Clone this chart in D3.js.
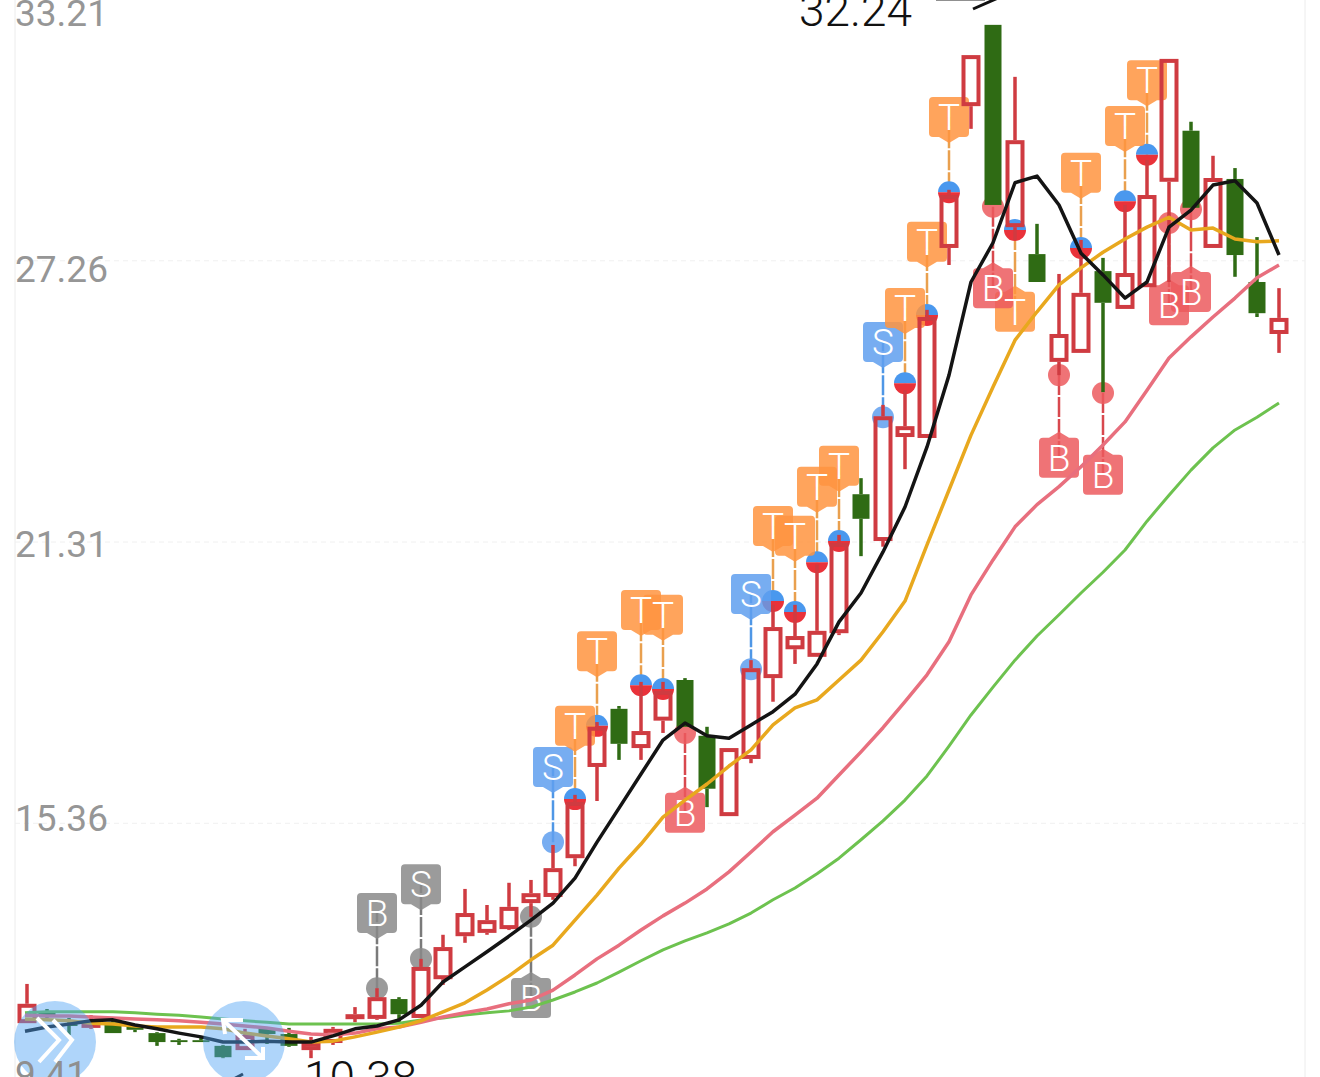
<!DOCTYPE html>
<html>
<head>
<meta charset="utf-8">
<script src="https://cdn.jsdelivr.net/npm/d3@7/dist/d3.min.js"></script>
<style>
html,body{margin:0;padding:0;background:#fff;overflow:hidden}
svg{display:block;font-family:Roboto,"Noto Sans",sans-serif}
</style>
</head>
<body>
<svg id="chart" width="1320" height="1077"></svg>
<script>
const axisTicks=[33.21,27.26,21.31,15.36,9.41];
const highPrice=32.24, lowPrice=10.38;

const open =[11.12,11.36,11.10,11.02,11.14,11.04,10.91,10.76,10.76,10.64,10.55,11.00,10.89,10.55,10.70,11.25,11.21,11.63,11.23,12.05,12.96,13.03,13.11,13.66,13.79,14.61,16.54,17.77,16.94,17.52,18.38,17.20,15.50,16.71,18.42,19.03,18.87,19.37,22.31,21.32,23.52,23.50,27.52,30.52,32.24,27.96,27.39,25.11,25.30,27.03,26.23,26.69,28.92,30.00,27.52,28.98,26.80,25.70];
const close=[11.53,11.25,11.06,11.17,10.91,10.98,10.72,10.72,10.72,10.40,10.87,10.89,10.64,10.72,11.00,11.31,11.67,11.31,12.31,12.73,13.45,13.30,13.58,13.87,14.40,15.80,17.39,17.03,17.30,18.15,17.39,16.08,16.94,18.63,19.50,19.31,19.42,21.28,21.79,23.96,23.75,26.06,28.64,31.60,28.43,29.80,26.80,25.70,26.57,26.36,26.99,28.64,31.52,28.37,29.00,27.37,26.14,26.04];
const high =[11.95,11.42,11.23,11.29,11.17,11.08,10.93,10.79,10.83,10.66,11.00,11.02,11.02,10.83,11.04,11.46,11.86,11.67,12.48,12.99,13.96,13.62,14.09,14.15,14.89,15.95,17.49,17.83,18.34,18.34,18.42,17.39,16.94,18.80,19.97,19.97,20.82,21.45,22.65,24.20,24.51,26.21,28.75,31.60,32.24,31.14,28.03,26.97,27.69,27.31,28.43,29.38,31.52,30.19,29.47,29.21,27.75,26.67];
const low  =[11.12,11.23,10.87,11.00,10.91,10.93,10.64,10.66,10.72,10.38,10.55,10.68,10.62,10.38,10.66,11.14,11.19,11.14,11.23,11.93,12.82,12.99,13.09,13.37,13.73,14.44,15.82,16.69,16.69,17.26,17.39,15.69,15.50,16.62,17.92,18.72,18.87,19.33,21.00,21.20,22.84,23.50,27.16,30.04,28.43,27.69,26.80,24.83,25.30,24.47,26.23,26.69,26.80,28.37,27.52,26.91,26.06,25.30];

const ma5 =[10.95,11.04,11.10,11.17,11.19,11.08,11.00,10.91,10.83,10.72,10.72,10.74,10.72,10.72,10.85,11.00,11.06,11.19,11.50,11.99,12.31,12.63,12.96,13.30,13.66,14.19,14.95,15.67,16.39,17.11,17.47,17.20,17.15,17.43,17.71,18.08,18.72,19.61,20.22,21.09,22.04,23.31,24.83,26.80,27.63,28.90,29.04,28.43,27.41,26.95,26.46,26.80,27.96,28.32,28.85,28.94,28.47,27.37];
const ma10=[11.21,11.19,11.17,11.12,11.10,11.06,11.04,11.04,11.04,11.00,10.91,10.85,10.79,10.72,10.74,10.83,10.93,11.04,11.17,11.36,11.55,11.82,12.12,12.46,12.77,13.30,13.83,14.40,14.91,15.48,15.84,16.18,16.56,16.90,17.43,17.79,17.96,18.38,18.80,19.40,20.05,21.24,22.40,23.56,24.58,25.57,26.17,26.74,27.10,27.43,27.71,27.96,28.17,27.90,27.94,27.71,27.65,27.67];
const ma20=[11.29,11.27,11.27,11.25,11.23,11.21,11.19,11.17,11.14,11.10,11.06,11.02,10.95,10.89,10.87,10.91,11.00,11.04,11.14,11.25,11.34,11.42,11.53,11.61,11.82,12.14,12.48,12.77,13.09,13.39,13.66,13.96,14.32,14.74,15.17,15.52,15.88,16.37,16.86,17.37,17.92,18.49,19.19,20.18,20.92,21.62,22.09,22.47,22.89,23.35,23.84,24.51,25.19,25.64,26.06,26.46,26.89,27.16];
const ma30=[11.34,11.36,11.36,11.36,11.36,11.34,11.31,11.29,11.25,11.21,11.17,11.14,11.10,11.10,11.10,11.10,11.10,11.12,11.19,11.23,11.29,11.34,11.38,11.46,11.61,11.78,11.97,12.20,12.44,12.67,12.86,13.03,13.22,13.45,13.73,13.98,14.28,14.61,15.00,15.40,15.84,16.35,16.98,17.64,18.23,18.80,19.31,19.76,20.22,20.66,21.13,21.74,22.29,22.82,23.29,23.67,23.94,24.24];

const signalBar  =[16,18,23,24,33,39,25,26,28,29,34,35,36,37,40,41,42,45,48,50,51,30,44,47,49,52,53];
const signalType =["B","S","B","S","S","S","T","T","T","T","T","T","T","T","T","T","T","T","T","T","T","B","B","B","B","B","B"];
const signalStyle=["grey","grey","grey","blue","blue","blue","half","half","half","half","half","half","half","half","half","half","half","half","half","half","half","red","red","red","red","red","red"];
const signalPrice=[11.86,12.48,13.37,14.95,18.61,23.94,15.86,17.41,18.27,18.19,20.05,19.82,20.87,21.32,24.66,26.10,28.70,27.90,27.52,28.51,29.49,17.26,28.39,24.83,24.45,28.05,28.34];
const badgePrice =[13.45,14.06,11.65,16.54,20.20,25.53,17.41,18.99,19.86,19.76,21.64,21.43,22.47,22.91,26.25,27.65,30.29,26.17,29.11,30.10,31.07,15.57,26.67,23.08,22.72,26.31,26.59];

const W=1320,H=1077;
const RED="#cf3b41",GREEN="#2f6b14";
const svg=d3.select("#chart");
const x=d3.scaleLinear().domain([0,open.length-1]).range([25,1279]);
const y=d3.scaleLinear().domain([9.41,33.21]).range([1104,-21]);
const bars=d3.range(open.length);

// frame + axis
svg.selectAll("line.frame").data([15,1305]).join("line").attr("class","frame")
  .attr("x1",d=>d).attr("x2",d=>d).attr("y1",0).attr("y2",H).attr("stroke","#ececec").attr("stroke-width",1);
const labelDy=[46.5,21.5,14.5,7.5];
const axis=svg.append("g").attr("transform","translate(15,0)")
  .call(d3.axisRight(y).tickValues(axisTicks.slice(0,4)).tickSize(1290).tickFormat(d3.format(".2f")));
axis.select(".domain").remove();
axis.selectAll(".tick line").attr("stroke","#f0f0f0").attr("stroke-dasharray","5,4");
axis.selectAll(".tick text").attr("x",0).attr("dy",(d,i)=>labelDy[i]).attr("text-anchor","start")
  .style("font-family","Roboto,sans-serif").style("font-size","37px").attr("fill","#969696");

// signals
const styleMap={grey:{f:"#8a8a8a",line:"#7a7a7a",c:"#8a8a8a"},blue:{f:"#5f9fef",line:"#4f97e6",c:"#5f9fef"},
  half:{f:"#ff9440",line:"#e9a04e"},red:{f:"#ec5a5e",line:"#d8484e",c:"#ec5a5e"}};
const R=11,BW=20,BH=20,TIP=6;
function badgePath(cx,cy,up){
  const r=4,l=cx-BW,rt=cx+BW,t=cy-BH,b=cy+BH;
  if(!up) return `M${l+r},${t}H${rt-r}Q${rt},${t} ${rt},${t+r}V${b-r}Q${rt},${b} ${rt-r},${b}H${cx+10}L${cx},${b+TIP}L${cx-10},${b}H${l+r}Q${l},${b} ${l},${b-r}V${t+r}Q${l},${t} ${l+r},${t}Z`;
  return `M${l+r},${t}H${cx-10}L${cx},${t-TIP}L${cx+10},${t}H${rt-r}Q${rt},${t} ${rt},${t+r}V${b-r}Q${rt},${b} ${rt-r},${b}H${l+r}Q${l},${b} ${l},${b-r}V${t+r}Q${l},${t} ${l+r},${t}Z`;
}
const sig=d3.range(signalBar.length).map(i=>({bar:signalBar[i],type:signalType[i],style:signalStyle[i],p:signalPrice[i],bp:badgePrice[i]}));
const gS=svg.append("g");
const sg=gS.selectAll("g.sig").data(sig).join("g").attr("class","sig");
sg.append("line").attr("x1",d=>x(d.bar)).attr("x2",d=>x(d.bar)).attr("y1",d=>y(d.p)).attr("y2",d=>y(d.bp))
  .attr("stroke",d=>styleMap[d.style].line).attr("stroke-width",2.5).attr("stroke-dasharray","20,2");
sg.each(function(d){
  const g=d3.select(this),cx=x(d.bar),cy=y(d.p);
  if(d.style==="half"){
    g.append("path").attr("d",`M${cx-R},${cy}A${R},${R} 0 0 1 ${cx+R},${cy}Z`).attr("fill","#4a98ee");
    g.append("path").attr("d",`M${cx-R},${cy}A${R},${R} 0 0 0 ${cx+R},${cy}Z`).attr("fill","#e9323a");
  }else{
    g.append("circle").attr("cx",cx).attr("cy",cy).attr("r",R).attr("fill",styleMap[d.style].c).attr("opacity",.85);
  }
});
gS.selectAll("path.badge").data(sig).join("path").attr("class","badge")
  .attr("d",d=>badgePath(x(d.bar),y(d.bp),d.bp<d.p)).attr("fill",d=>styleMap[d.style].f).attr("opacity",.85);
gS.selectAll("text.badge").data(sig).join("text").attr("class","badge")
  .attr("x",d=>x(d.bar)).attr("y",d=>y(d.bp)+13).attr("text-anchor","middle")
  .attr("fill","#fff").style("font-size","37px").style("font-weight",300).text(d=>d.type);

// candles
const gC=svg.append("g");
const barX=i=>i===0?x(0)+2:x(i);
gC.selectAll("g").data(bars).join("g").each(function(i){
  const g=d3.select(this),up=close[i]>=open[i],c=up?RED:GREEN,cx=barX(i);
  const top=y(Math.max(open[i],close[i])),bot=y(Math.min(open[i],close[i]));
  g.append("line").attr("x1",cx).attr("x2",cx).attr("y1",y(high[i])).attr("y2",top).attr("stroke",c).attr("stroke-width",3.5);
  g.append("line").attr("x1",cx).attr("x2",cx).attr("y1",bot).attr("y2",y(low[i])).attr("stroke",c).attr("stroke-width",3.5);
  if(up) g.append("rect").attr("x",cx-7.5).attr("width",15).attr("y",top+2).attr("height",Math.max(bot-top-4,1))
    .attr("fill","none").attr("stroke",c).attr("stroke-width",4);
  else g.append("rect").attr("x",cx-8.5).attr("width",17).attr("y",top).attr("height",Math.max(bot-top,1)).attr("fill",c);
});

// moving averages
const line=d3.line().x((d,i)=>x(i)).y(d=>y(d));
[[ma30,"#6dc24f",3],[ma20,"#e86f7e",3.5],[ma10,"#e8a81e",3.5],[ma5,"#141414",3.5]].forEach(([s,c,w])=>{
  svg.append("path").datum(s).attr("d",line).attr("fill","none").attr("stroke",c).attr("stroke-width",w).attr("stroke-linejoin","round");
});

// high/low callouts
svg.append("text").attr("x",x(44)-194).attr("y",y(highPrice)+1).attr("fill","#111").style("font-size","46px").style("font-weight",300).text(highPrice.toFixed(2));
svg.append("line").attr("x1",936).attr("x2",985).attr("y1",-1).attr("y2",-1).attr("stroke","#222").attr("stroke-width",3);
svg.append("line").attr("x1",973).attr("y1",9).attr("x2",998).attr("y2",-2).attr("stroke","#111").attr("stroke-width",3);
svg.append("text").attr("x",x(13)-7).attr("y",y(lowPrice)+36).attr("fill","#111").style("font-size","46px").style("font-weight",300).text(lowPrice.toFixed(2));
svg.append("line").attr("x1",228).attr("y1",1082).attr("x2",243).attr("y2",1074).attr("stroke","#111").attr("stroke-width",3);

// floating buttons
const gB=svg.append("g");
gB.selectAll("circle").data([55,244]).join("circle").attr("cx",d=>d).attr("cy",1042).attr("r",41).attr("fill","#4ea1f5").attr("opacity",.45);

// lowest axis label sits on top of the button
const axisLow=svg.append("g").attr("transform","translate(15,0)")
  .call(d3.axisRight(y).tickValues(axisTicks.slice(4)).tickSize(0).tickFormat(d3.format(".2f")));
axisLow.select(".domain").remove();
axisLow.selectAll(".tick text").attr("x",0).attr("dy",-18).attr("text-anchor","start")
  .style("font-family","Roboto,sans-serif").style("font-size","37px").attr("fill","#8f8f8f");

const icon=d3.line();
[[[37,1018],[59,1040],[39,1062]],[[53,1020],[72,1040],[55,1062]],
 [[223,1020],[263,1058]],[[243,1020],[223,1020],[225,1034]],[[245,1058],[263,1058],[263,1047]]].forEach(p=>{
  gB.append("path").attr("d",icon(p)).attr("fill","none").attr("stroke","#fff").attr("stroke-width",4);
});
</script>
</body>
</html>
